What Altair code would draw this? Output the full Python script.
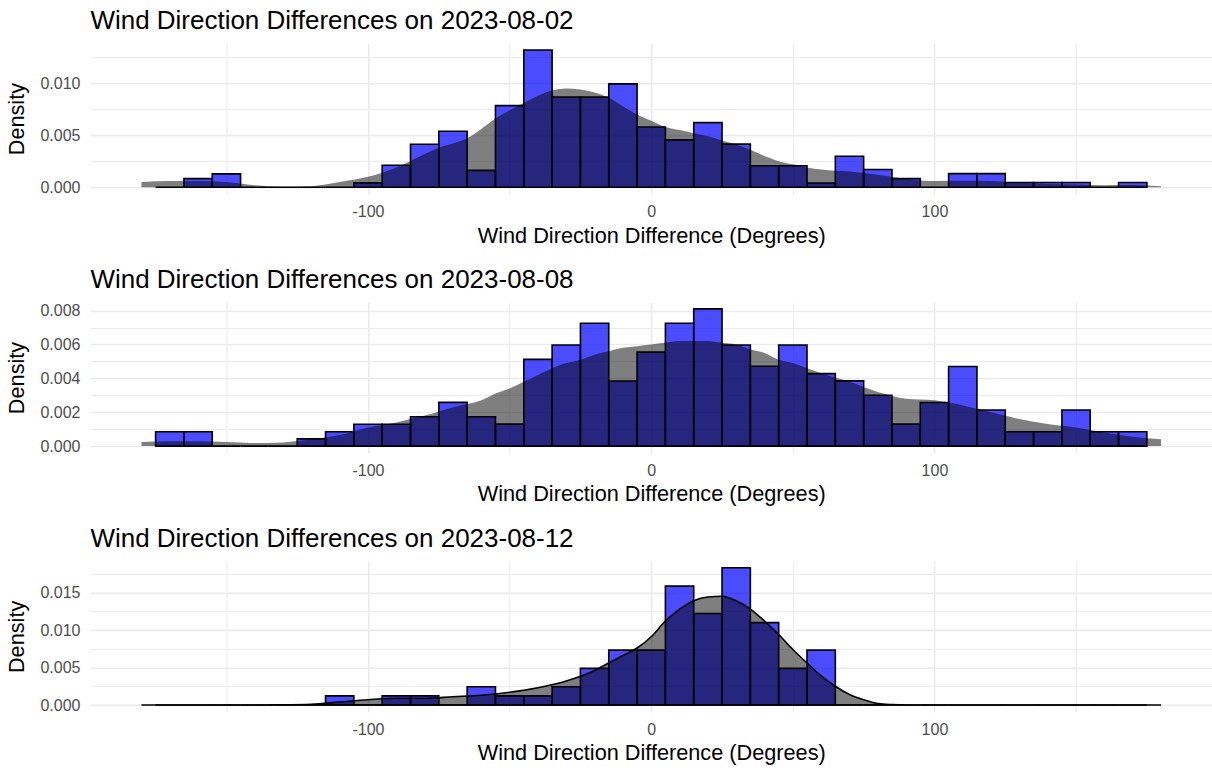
import altair as alt
import pandas as pd

FONT = "Liberation Sans"
BINWIDTH = 10

dates = ["2023-08-02", "2023-08-08", "2023-08-12"]

# histogram bin centres (degrees) shared by all dates
bin_centers = list(range(-170, 171, 10))

# histogram densities
hist_0802 = [0, 0.00083, 0.00128, 0, 0, 0, 0, 0.00042, 0.00212, 0.00413,
             0.00538, 0.00162, 0.00785, 0.0132, 0.00867, 0.00867, 0.00994, 0.0058,
             0.00455, 0.00621, 0.00415, 0.00207, 0.00207, 0.0004, 0.00298, 0.0017,
             0.00083, 0, 0.00131, 0.00131, 0.00045, 0.00045, 0.00045, 0, 0.00045]
hist_0808 = [0.00085, 0.00085, 0, 0, 0, 0.00043, 0.00085, 0.00129, 0.00129, 0.00173,
             0.00258, 0.00173, 0.0013, 0.00512, 0.00597, 0.00725, 0.00384, 0.00555,
             0.00725, 0.0081, 0.00597, 0.00471, 0.00597, 0.00428, 0.00385, 0.003,
             0.0013, 0.00257, 0.0047, 0.00213, 0.00085, 0.00085, 0.00213, 0.00085, 0.00085]
hist_0812 = [0, 0, 0, 0, 0, 0, 0.00122, 0, 0.00122, 0.00122,
             0, 0.00244, 0.00122, 0.00122, 0.00244, 0.00488, 0.00732, 0.00732,
             0.01585, 0.0122, 0.0183, 0.01098, 0.00488, 0.00732, 0, 0,
             0, 0, 0, 0, 0, 0, 0, 0, 0]

# kernel density curves
dens_x_0802 = [-180, -170, -160, -150, -140, -130, -120, -110, -100, -90, -80, -75, -70,
               -65, -60, -55, -50, -45, -40, -35, -30, -25, -20, -15, -10, -5, 0, 5, 10,
               15, 20, 25, 30, 35, 40, 45, 50, 55, 60, 70, 80, 90, 100, 110, 120, 130,
               140, 150, 160, 170, 180]
dens_0802 = [0.0005, 0.0006, 0.0006, 0.0005, 0.0002, 0.00005, 0.0001, 0.0005, 0.0010,
             0.0019, 0.0032, 0.0038, 0.0042, 0.0047, 0.0056, 0.0066, 0.0074, 0.0081,
             0.0088, 0.0093, 0.0095, 0.0094, 0.0091, 0.0086, 0.0078, 0.0070, 0.0064,
             0.0058, 0.0055, 0.0052, 0.0049, 0.0045, 0.0041, 0.0036, 0.0030, 0.0025,
             0.0022, 0.0019, 0.0017, 0.0015, 0.0012, 0.0008, 0.0006, 0.00062, 0.0006,
             0.0004, 0.0003, 0.00026, 0.0002, 0.00022, 0.0001]

dens_x_0808 = [-180, -170, -160, -150, -140, -130, -120, -110, -100, -90, -80, -70, -60,
               -55, -50, -45, -40, -35, -30, -25, -20, -15, -10, -5, 0, 5, 10, 15, 20,
               25, 30, 35, 40, 45, 50, 55, 60, 70, 80, 90, 100, 110, 120, 130, 140, 150,
               160, 170, 180]
dens_0808 = [0.00024, 0.00028, 0.00028, 0.00024, 0.00018, 0.00022, 0.0004, 0.00065,
             0.0011, 0.0014, 0.0018, 0.0023, 0.0027, 0.0031, 0.0034, 0.0038, 0.0042,
             0.0046, 0.0049, 0.0051, 0.0054, 0.0056, 0.0058, 0.0059, 0.0060, 0.0061,
             0.0062, 0.0062, 0.0062, 0.0061, 0.0060, 0.0057, 0.0055, 0.0051, 0.0049,
             0.0046, 0.0043, 0.0038, 0.0032, 0.0028, 0.0027, 0.0024, 0.0020, 0.0016,
             0.0013, 0.0011, 0.0008, 0.00055, 0.0004]

dens_x_0812 = [-180, -170, -160, -150, -140, -130, -120, -110, -100, -90, -80, -70, -60,
               -50, -40, -30, -20, -15, -10, -5, 0, 5, 10, 15, 20, 25, 30, 35, 40, 45,
               50, 55, 60, 65, 70, 75, 80, 85, 90, 100, 110, 120, 130, 140, 150, 160,
               170, 180]
dens_0812 = [0, 0, 0, 0, 0, 0.00002, 0.0001, 0.0004, 0.0007, 0.0009, 0.0009, 0.0011,
             0.0013, 0.0017, 0.0023, 0.0032, 0.0046, 0.0056, 0.0066, 0.0076, 0.0091,
             0.0112, 0.0128, 0.0139, 0.0144, 0.0145, 0.0139, 0.0128, 0.0112, 0.0094,
             0.0074, 0.0056, 0.0039, 0.0025, 0.0014, 0.0007, 0.0002, 0.00005, 0, 0, 0,
             0, 0, 0, 0, 0, 0, 0]

hists = [hist_0802, hist_0808, hist_0812]
dens_xs = [dens_x_0802, dens_x_0808, dens_x_0812]
dens_ys = [dens_0802, dens_0808, dens_0812]
outlined = [False, False, True]

# axis ticks
x_ticks = [-150, -100, -50, 0, 50, 100, 150]
x_major = [-100, 0, 100]
y_ticks = [
    [0, 0.0025, 0.005, 0.0075, 0.01, 0.0125],
    [0, 0.001, 0.002, 0.003, 0.004, 0.005, 0.006, 0.007, 0.008],
    [0, 0.0025, 0.005, 0.0075, 0.01, 0.0125, 0.015, 0.0175],
]
y_major = [
    [0, 0.005, 0.01],
    [0, 0.002, 0.004, 0.006, 0.008],
    [0, 0.005, 0.01, 0.015],
]

X_DOMAIN = [-198, 198]
GRID = "#EBEBEB"


def js_list(vals):
    return "[" + ",".join(repr(v) for v in vals) + "]"


def panel(i):
    hdf = pd.DataFrame({"center": bin_centers, "density": hists[i]})
    ddf = pd.DataFrame({"x": dens_xs[i], "density": dens_ys[i]})
    ymax = max(max(hists[i]), max(dens_ys[i]))
    y_domain = [-0.05 * ymax, 1.05 * ymax]

    xmaj = js_list(x_major)
    ymaj = js_list(y_major[i])
    x_axis = alt.Axis(
        values=x_ticks,
        labelExpr=f"indexof({xmaj}, datum.value) >= 0 ? '' + datum.value : ''",
        title="Wind Direction Difference (Degrees)",
        grid=True,
        gridColor=GRID,
        gridWidth={"condition": {"test": f"indexof({xmaj}, datum.value) >= 0", "value": 1.6},
                   "value": 1.0},
        domain=False,
        ticks=False,
        labelPadding=9.5,
        titlePadding=5.5,
    )
    y_axis = alt.Axis(
        values=y_ticks[i],
        labelExpr=f"indexof({ymaj}, datum.value) >= 0 ? format(datum.value, '.3f') : ''",
        title="Density",
        grid=True,
        gridColor=GRID,
        gridWidth={"condition": {"test": f"indexof({ymaj}, datum.value) >= 0", "value": 1.6},
                   "value": 1.0},
        domain=False,
        ticks=False,
        labelPadding=10.5,
        titlePadding=11,
    )
    xs = alt.Scale(domain=X_DOMAIN, nice=False, zero=False)
    ys = alt.Scale(domain=y_domain, nice=False, zero=False)

    bars = alt.Chart(hdf).transform_calculate(
        x0=f"datum.center - {BINWIDTH / 2}",
        x1=f"datum.center + {BINWIDTH / 2}",
    ).mark_rect(
        fill="#0000FF", fillOpacity=0.7, stroke="black", strokeWidth=1.6
    ).encode(
        x=alt.X("x0:Q", scale=xs, axis=x_axis),
        x2="x1:Q",
        y=alt.Y("density:Q", scale=ys, axis=y_axis),
        y2=alt.datum(0),
    )

    area_kw = dict(fill="black", fillOpacity=0.5, interpolate="monotone")
    if outlined[i]:
        area_kw.update(stroke="black", strokeWidth=1.6, strokeOpacity=1)
    dens = alt.Chart(ddf).mark_area(**area_kw).encode(
        x=alt.X("x:Q", scale=xs, axis=x_axis),
        y=alt.Y("density:Q", scale=ys, axis=y_axis),
        y2=alt.datum(0),
    )

    return alt.layer(bars, dens).properties(
        width=1122,
        height=151,
        title=alt.TitleParams(
            text=f"Wind Direction Differences on {dates[i]}",
            anchor="start",
            frame="group",
            fontSize=26,
            font=FONT,
            fontWeight="normal",
            color="black",
            offset=9,
        ),
    )


chart = alt.vconcat(*[panel(i) for i in range(3)], spacing=20).properties(
    padding={"left": 6.5, "top": 8, "right": 0, "bottom": 0},
).configure_view(stroke=None).configure_axis(
    labelFont=FONT,
    labelFontSize=16,
    labelColor="#4D4D4D",
    titleFont=FONT,
    titleFontSize=21.7,
    titleFontWeight="normal",
    titleColor="black",
)

chart.save("out.html", embed_options={"renderer": "svg", "actions": False})
